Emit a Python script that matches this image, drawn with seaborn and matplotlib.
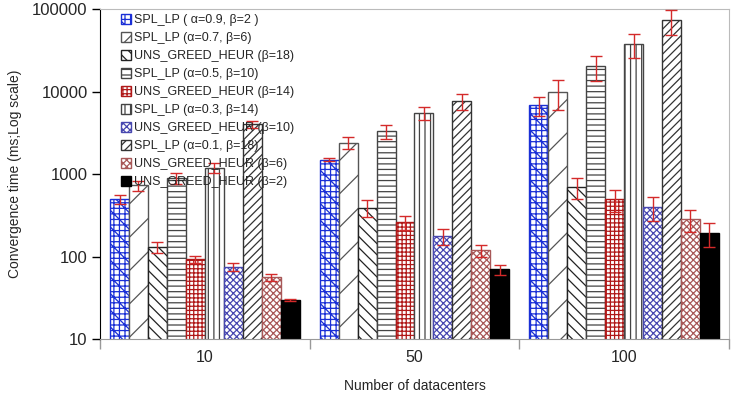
import pandas as pd
import matplotlib
matplotlib.use("Agg")
import matplotlib.pyplot as plt
import matplotlib.ticker as mticker
import seaborn as sns

# ==========================
# data
# ==========================
groups = ["10", "50", "100"]
labels = [
    "SPL_LP ( α=0.9, β=2 )",
    "SPL_LP (α=0.7, β=6)",
    "UNS_GREED_HEUR (β=18)",
    "SPL_LP (α=0.5, β=10)",
    "UNS_GREED_HEUR (β=14)",
    "SPL_LP (α=0.3, β=14)",
    "UNS_GREED_HEUR (β=10)",
    "SPL_LP (α=0.1, β=18)",
    "UNS_GREED_HEUR (β=6)",
    "UNS_GREED_HEUR (β=2)",
]
vals_10 = [500, 730, 130, 890, 93, 1200, 75, 4000, 56, 30]
vals_50 = [1500, 2400, 390, 3300, 260, 5500, 177, 7700, 120, 70]
vals_100 = [6900, 9900, 700, 20400, 500, 37700, 400, 73600, 285, 193]
err_10 = [60, 100, 20, 130, 10, 180, 8, 400, 6, 1]
err_50 = [60, 400, 90, 600, 50, 1000, 40, 1700, 20, 10]
err_100 = [1800, 3900, 200, 7000, 150, 12000, 130, 25000, 85, 62]

# styles
faces = ["white"] * 9 + ["black"]
edges = ["#1a2fd6", "#555555", "#222222", "#444444", "#b01818",
         "#444444", "#4848b0", "#333333", "#a85858", "black"]
hatches = ["+++\\\\", "/", "\\\\\\", "---", "++++", "|||", "xxxxx", "////", "xxxxx", None]

rows = []
for g, vals, errs in [("10", vals_10, err_10), ("50", vals_50, err_50), ("100", vals_100, err_100)]:
    for lab, v, e in zip(labels, vals, errs):
        rows.append({"datacenters": g, "series": lab, "time": v, "err": e})
df = pd.DataFrame(rows)

sns.set_style("white")
plt.rcParams["font.family"] = ["Liberation Sans", "DejaVu Sans"]
plt.rcParams["hatch.linewidth"] = 0.9

fig = plt.figure(figsize=(7.37, 4.16), dpi=100)
ax = fig.add_axes([0.1357, 0.185, 0.8533, 0.793])

sns.barplot(data=df, x="datacenters", y="time", hue="series", order=groups,
            hue_order=labels, palette=faces, width=0.904, errorbar=None,
            linewidth=1.0, edgecolor="black", ax=ax, legend=False)

ax.set_yscale("log")

bar_conts = list(ax.containers)
for i, cont in enumerate(bar_conts):
    sub = df[df["series"] == labels[i]].set_index("datacenters").loc[groups]
    xs, ys = [], []
    for bar in cont:
        bar.set_edgecolor(edges[i])
        if hatches[i]:
            bar.set_hatch(hatches[i])
        xs.append(bar.get_x() + bar.get_width() / 2)
        ys.append(bar.get_height())
    ax.errorbar(xs, ys, yerr=sub["err"].values, fmt="none", ecolor="#d42a2a",
                elinewidth=1.0, capsize=4, capthick=1.0, zorder=5)

ax.set_ylim(10, 100000)
ax.set_xlim(-0.5, 2.5)
ax.yaxis.set_major_locator(mticker.FixedLocator([10, 100, 1000, 10000, 100000]))
ax.yaxis.set_major_formatter(mticker.FuncFormatter(lambda v, p: f"{int(round(v))}"))
ax.yaxis.set_minor_locator(mticker.NullLocator())
ax.tick_params(axis="y", which="major", left=True, length=6, width=1, color="black",
               labelsize=12, direction="out", pad=3)
ax.set_xticks([0, 1, 2])
ax.set_xticks([-0.5, 0.5, 1.5, 2.5], minor=True)
ax.tick_params(axis="x", which="major", length=0, labelsize=11.5, pad=8)
ax.tick_params(axis="x", which="minor", bottom=True, length=7, width=1, color="#999999")

for side in ["top", "right"]:
    ax.spines[side].set_color("#bbbbbb")
ax.spines["bottom"].set_color("#999999")
ax.spines["left"].set_color("black")

ax.set_xlabel("Number of datacenters", fontsize=10, labelpad=10)
ax.set_ylabel("Convergence time (ms;Log scale)", fontsize=10, labelpad=7)

handles = [c[0] for c in bar_conts]
leg = ax.legend(handles, labels, loc="upper left", bbox_to_anchor=(0.025, 1.0),
                frameon=False, fontsize=9, handlelength=0.8, handleheight=0.8,
                handletextpad=0.3, labelspacing=0.47, borderaxespad=0.0)
leg.set_zorder(10)

plt.savefig("out.png", dpi=100)
